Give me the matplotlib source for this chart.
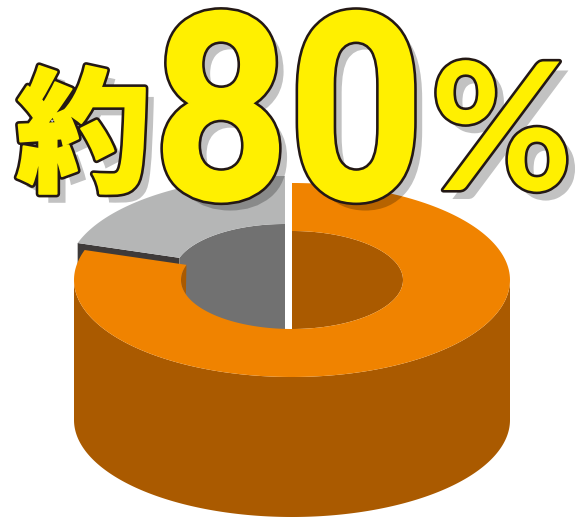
import numpy as np
import matplotlib
matplotlib.use("Agg")
import matplotlib.pyplot as plt
from matplotlib.patches import Polygon
from matplotlib.patheffects import AbstractPathEffect
from matplotlib.transforms import Affine2D

# pie shares in percent, first slice starts at 12 o'clock and runs clockwise
shares = [80, 20]
share_colors = ["#F08300", "#B5B6B6"]
wall_colors = ["#AA5A00", "#717171"]
cut_color = "#3E3A39"

YELLOW = "#FFF000"
EDGE = "#231815"

# ring geometry, in pixels
cx, cy = 292, 280
rx_out, ry_out = 218, 97
rx_in, ry_in = 111, 49
depth = 140
shift = (-7, -7)


def arc(x0, y0, rx, ry, a_from, a_to, n=200):
    a = np.radians(np.linspace(a_from, a_to, n))
    return np.column_stack([x0 + rx * np.cos(a), y0 - ry * np.sin(a)])


class HeavyGlyph(AbstractPathEffect):
    """Draw a glyph squeezed sideways, with a drop shadow and a dark outline."""

    def __init__(self, squeeze=1.0, shadow=9, lw=2.6, fatten=0):
        self.squeeze = squeeze
        self.shadow = shadow
        self.lw = lw
        self.fatten = fatten

    def draw_path(self, renderer, gc, tpath, affine, rgbFace):
        glyph = Affine2D().scale(self.squeeze, 1) + affine

        gc0 = renderer.new_gc()
        gc0.copy_properties(gc)
        gc0.set_alpha(0.24)
        gc0.set_linewidth(0)
        renderer.draw_path(gc0, tpath, glyph + Affine2D().translate(self.shadow, -self.shadow), (0, 0, 0))
        gc0.restore()

        gc1 = renderer.new_gc()
        gc1.copy_properties(gc)
        gc1.set_foreground(EDGE)
        gc1.set_linewidth((self.lw * 2 + self.fatten) * 72 / 100)
        renderer.draw_path(gc1, tpath, glyph, rgbFace)
        gc1.restore()

        gc2 = renderer.new_gc()
        gc2.copy_properties(gc)
        gc2.set_foreground(YELLOW)
        gc2.set_linewidth(self.fatten * 72 / 100)
        renderer.draw_path(gc2, tpath, glyph, rgbFace)
        gc2.restore()


fig = plt.figure(figsize=(5.75, 5.17), dpi=100)
ax = fig.add_axes([0, 0, 1, 1])
ax.set_xlim(0, 575)
ax.set_ylim(517, 0)
ax.axis("off")

# slice boundaries on the ellipse, measured counter-clockwise from 3 o'clock
start = 90
end = start - shares[0] * 3.6

# ---- grey slice, pulled away up and left
gx, gy = cx + shift[0], cy + shift[1]
a0 = end + 360
corner_out = arc(gx, gy, rx_out, ry_out, a0, a0, 1)[0]
corner_in = arc(gx, gy, rx_in, ry_in, a0, a0, 1)[0]

ax.add_patch(Polygon([corner_out, corner_in, corner_in + [0, 40], corner_out + [0, 40]],
                     fc=cut_color, ec="none", zorder=1))
pit = np.vstack([arc(gx, gy, rx_in, ry_in, start, a0), [corner_in[0], cy + ry_in + 5], [gx, cy + ry_in + 5]])
ax.add_patch(Polygon(pit, fc=wall_colors[1], ec="none", zorder=1))
top = np.vstack([arc(gx, gy, rx_out, ry_out, start, a0), arc(gx, gy, rx_in, ry_in, a0, start)])
ax.add_patch(Polygon(top, fc=share_colors[1], ec="none", zorder=2))

# ---- orange slice
side = np.vstack([arc(cx, cy, rx_out, ry_out, 0, -180), arc(cx, cy + depth, rx_out, ry_out, -180, 0)])
ax.add_patch(Polygon(side, fc=wall_colors[0], ec="none", zorder=3))
inner_right = arc(cx, cy, rx_in, ry_in, 90, -90)
ax.add_patch(Polygon(inner_right, fc=wall_colors[0], ec="none", zorder=3))
crescent = arc(cx, cy, rx_in, ry_in, end + 360, 197)
ax.add_patch(Polygon(crescent, fc=wall_colors[0], ec="none", zorder=3))
ring = np.vstack([arc(cx, cy, rx_out, ry_out, start, end), arc(cx, cy, rx_in, ry_in, end, start)])
ax.add_patch(Polygon(ring, fc=share_colors[0], ec="none", zorder=4))

# ---- headline
ax.text(16, 181, "約", fontsize=97, family=["Noto Sans CJK JP"], weight="black", color=YELLOW,
        ha="left", va="baseline", zorder=6, path_effects=[HeavyGlyph(fatten=2)])
ax.text(153, 199, "8", fontsize=188, family=["Roboto"], weight="bold", color=YELLOW,
        ha="left", va="baseline", zorder=6, path_effects=[HeavyGlyph(squeeze=0.91, fatten=2)])
ax.text(288, 199, "0", fontsize=188, family=["Roboto"], weight="bold", color=YELLOW,
        ha="left", va="baseline", zorder=6, path_effects=[HeavyGlyph(squeeze=0.91, fatten=2)])
ax.text(430, 190, "%", fontsize=128, family=["Lato"], weight="bold", color=YELLOW,
        ha="left", va="baseline", zorder=6, path_effects=[HeavyGlyph(squeeze=0.98)])

fig.savefig("out.png", dpi=100)
